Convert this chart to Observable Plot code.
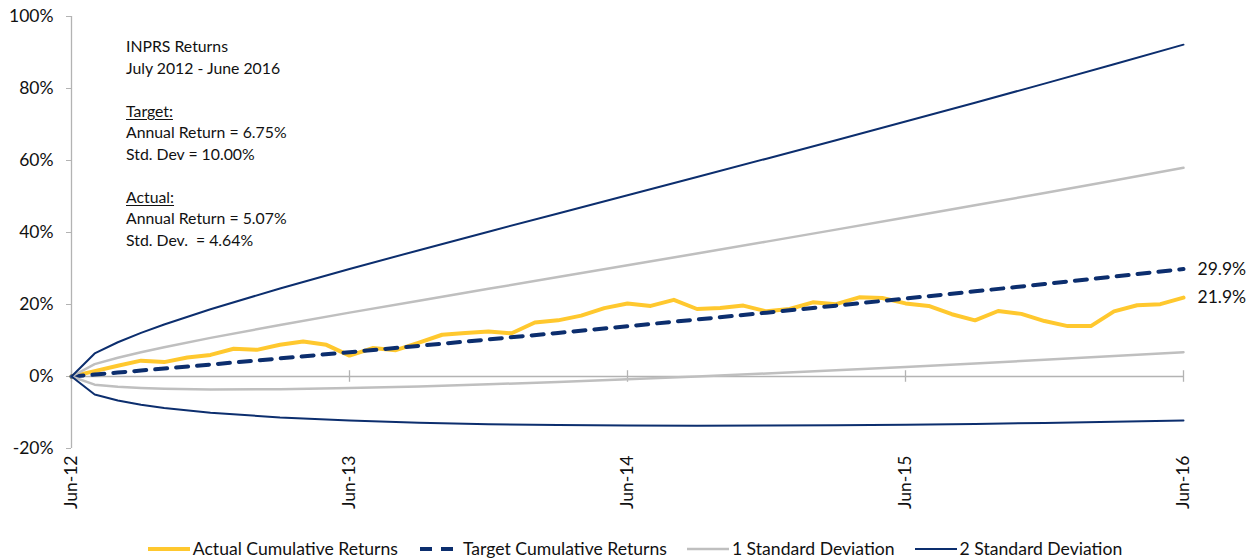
<!DOCTYPE html>
<html>
<head>
<meta charset="utf-8">
<script src="https://cdn.jsdelivr.net/npm/d3@7"></script>
<script src="https://cdn.jsdelivr.net/npm/@observablehq/plot@0.6"></script>
<style>
  html, body { margin: 0; padding: 0; background: #fff; }
  body { font-family: Lato, "Open Sans", sans-serif; color: #111; }
  #wrap { position: relative; width: 1250px; height: 559px; overflow: hidden; }
  #chart svg { display: block; }
  #note { position: absolute; left: 126px; top: 35px; font-size: 15.8px; line-height: 21.5px; color: #111; }
  #note u { text-decoration-thickness: 1px; text-underline-offset: 2px; }
  #legend { position: absolute; left: 10px; top: 538px; width: 1250px; height: 21px;
            display: flex; justify-content: center; align-items: center; font-size: 17.6px; color: #111; }
  .item { display: flex; align-items: center; margin: 0 10px; white-space: nowrap; }
  .item svg { margin-right: 3px; }
</style>
</head>
<body>
<div id="wrap">
  <div id="chart"></div>
  <div id="note"></div>
  <div id="legend"></div>
</div>
<script>
// ---- data ----
const tickMonths = [0, 12, 24, 36, 48];
const tickLabels = ["Jun-12", "Jun-13", "Jun-14", "Jun-15", "Jun-16"];
const yTicks = [-20, 0, 20, 40, 60, 80, 100];

// Actual cumulative returns (%), monthly, Jun-12 .. Jun-16
const actualReturns = [0, 1.5, 3.0, 4.4, 4.0, 5.3, 6.0, 7.7, 7.4, 8.8, 9.7, 8.8, 5.8,
  7.9, 7.3, 9.4, 11.6, 12.1, 12.5, 12.0, 15.0, 15.6, 16.9, 19.0, 20.3,
  19.6, 21.3, 18.75, 19.0, 19.7, 18.1, 18.75, 20.6, 20.1, 22.0, 21.8, 20.3,
  19.6, 17.3, 15.6, 18.2, 17.4, 15.4, 14.0, 14.0, 18.1, 19.8, 20.1, 21.9];

// Months (since Jun-12) at which the target and band series are read
const bandMonths = [0, 1, 2, 3, 4, 6, 9, 12, 15, 18, 21, 24, 27, 30, 33, 36, 39, 42, 45, 48];
const targetReturns = [0, 0.55, 1.09, 1.65, 2.20, 3.32, 5.02, 6.75, 8.51, 10.29, 12.11, 13.96, 15.83, 17.74, 19.68, 21.65, 23.65, 25.69, 27.76, 29.86];
const upper2SD = [0, 6.40, 9.52, 12.11, 14.45, 18.68, 24.45, 29.86, 35.09, 40.22, 45.29, 50.35, 55.42, 60.51, 65.64, 70.82, 76.06, 81.36, 86.73, 92.18];
const upper1SD = [0, 3.43, 5.22, 6.75, 8.15, 10.73, 14.32, 17.74, 21.07, 24.36, 27.63, 30.90, 34.17, 37.47, 40.80, 44.15, 47.55, 50.98, 54.45, 57.98];
const lower1SD = [0, -2.26, -2.87, -3.21, -3.42, -3.60, -3.53, -3.22, -2.75, -2.18, -1.52, -0.79, 0.00, 0.84, 1.73, 2.66, 3.63, 4.63, 5.67, 6.74];
const lower2SD = [0, -4.99, -6.68, -7.84, -8.73, -10.05, -11.37, -12.25, -12.85, -13.24, -13.50, -13.63, -13.67, -13.64, -13.53, -13.37, -13.16, -12.90, -12.60, -12.25];

const noteLines = [
  "INPRS Returns", "July 2012 - June 2016", "",
  "<u>Target:</u>", "Annual Return = 6.75%", "Std. Dev = 10.00%", "",
  "<u>Actual:</u>", "Annual Return = 5.07%", "Std. Dev.&nbsp; = 4.64%"
];

const seriesNames = ["Actual Cumulative Returns", "Target Cumulative Returns", "1 Standard Deviation", "2 Standard Deviation"];

// ---- styles ----
const gold = "#FFC82E";
const navy = "#0C2E6E";
const gray = "#BFBFBF";
const axisGray = "#B3B3B3";
const fontFamily = "Lato, 'Open Sans', sans-serif";

// ---- tables ----
const actual = actualReturns.map((v, i) => ({m: i, v}));
const toRows = (arr) => arr.map((v, i) => ({m: bandMonths[i], v}));
const target = toRows(targetReturns);
const u2 = toRows(upper2SD), u1 = toRows(upper1SD), l1 = toRows(lower1SD), l2 = toRows(lower2SD);
const endLabels = [target[target.length - 1], actual[actual.length - 1]];
const pct1 = d3.format(".1f");

const chart = Plot.plot({
  width: 1250,
  height: 538,
  marginLeft: 71,
  marginRight: 67,
  marginTop: 16,
  marginBottom: 90,
  x: {domain: [0, 48]},
  y: {domain: [-20, 100]},
  style: {fontFamily, fontSize: "17.5px", color: "#111", background: "#fff"},
  marks: [
    Plot.ruleX([0], {y1: -20, y2: 100, stroke: axisGray, strokeWidth: 1.3}),
    Plot.ruleY([0], {stroke: axisGray, strokeWidth: 1.6}),
    Plot.ruleX(tickMonths, {x: d => d, y1: -1.6, y2: 1.6, stroke: axisGray, strokeWidth: 1.3}),
    Plot.axisY({ticks: yTicks, tickFormat: d => d + "%", tickSize: 5, tickPadding: 13, stroke: axisGray, fill: "#111", fontSize: 17.5, label: null}),
    Plot.axisX({ticks: tickMonths, tickFormat: m => tickLabels[tickMonths.indexOf(m)], tickSize: 0, tickPadding: 7, tickRotate: -90, fill: "#111", fontSize: 17.5, label: null}),
    Plot.line(actual, {x: "m", y: "v", stroke: gold, strokeWidth: 4, strokeLinejoin: "round"}),
    Plot.line(target, {x: "m", y: "v", stroke: navy, strokeWidth: 4, strokeDasharray: "12,9"}),
    Plot.line(u1, {x: "m", y: "v", stroke: gray, strokeWidth: 2.5}),
    Plot.line(l1, {x: "m", y: "v", stroke: gray, strokeWidth: 2.5}),
    Plot.line(u2, {x: "m", y: "v", stroke: navy, strokeWidth: 2}),
    Plot.line(l2, {x: "m", y: "v", stroke: navy, strokeWidth: 2}),
    Plot.text(endLabels, {x: "m", y: "v", text: d => pct1(d.v) + "%", textAnchor: "start", dx: 14, fill: "#111", fontSize: 17.5})
  ]
});
document.getElementById("chart").appendChild(chart);

document.getElementById("note").innerHTML = noteLines.map(l => `<div style="height:21.5px">${l}</div>`).join("");

const swatches = [
  `<line x1="0" y1="4" x2="42" y2="4" stroke="${gold}" stroke-width="4"/>`,
  `<line x1="0" y1="4" x2="42" y2="4" stroke="${navy}" stroke-width="4" stroke-dasharray="12,9" stroke-dashoffset="-2"/>`,
  `<line x1="0" y1="4" x2="42" y2="4" stroke="${gray}" stroke-width="2.5"/>`,
  `<line x1="0" y1="4" x2="42" y2="4" stroke="${navy}" stroke-width="2"/>`
];
document.getElementById("legend").innerHTML = seriesNames.map((n, i) =>
  `<div class="item"><svg width="42" height="8">${swatches[i]}</svg><span>${n}</span></div>`).join("");
</script>
</body>
</html>
